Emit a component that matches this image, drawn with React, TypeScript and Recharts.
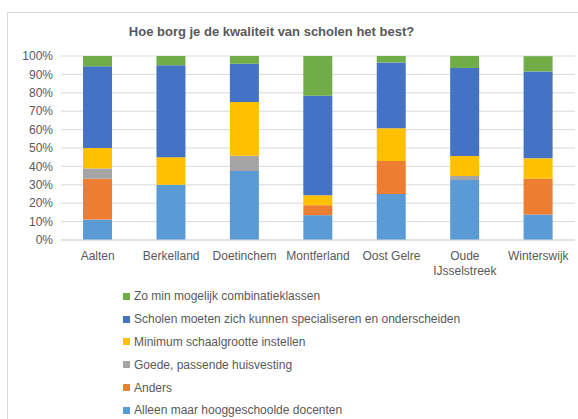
import { BarChart, Bar, XAxis, YAxis, CartesianGrid } from 'recharts';

const gemeenten = ['Aalten', 'Berkelland', 'Doetinchem', 'Montferland', 'Oost Gelre', 'Oude IJsselstreek', 'Winterswijk'];

// percentages per gemeente, bottom of stack first
const docenten = [11.1, 30, 37.5, 13.5, 25, 32.6, 13.9];
const anders = [22.2, 0, 0, 5.4, 17.9, 0, 19.4];
const huisvesting = [5.6, 0, 8.3, 0, 0, 2.2, 0];
const schaalgrootte = [11.1, 15, 29.2, 5.4, 17.9, 10.9, 11.1];
const specialiseren = [44.4, 50, 20.8, 54.1, 35.7, 47.8, 47.2];
const combinatieklassen = [5.6, 5, 4.2, 21.6, 3.6, 6.5, 8.3];

const yTicks = [0, 10, 20, 30, 40, 50, 60, 70, 80, 90, 100];

const series = [
  { key: 'docenten', name: 'Alleen maar hooggeschoolde docenten', color: '#5B9BD5', values: docenten },
  { key: 'anders', name: 'Anders', color: '#ED7D31', values: anders },
  { key: 'huisvesting', name: 'Goede, passende huisvesting', color: '#A5A5A5', values: huisvesting },
  { key: 'schaalgrootte', name: 'Minimum schaalgrootte instellen', color: '#FFC000', values: schaalgrootte },
  { key: 'specialiseren', name: 'Scholen moeten zich kunnen specialiseren en onderscheiden', color: '#4472C4', values: specialiseren },
  { key: 'combinatieklassen', name: 'Zo min mogelijk combinatieklassen', color: '#70AD47', values: combinatieklassen },
];

const data = gemeenten.map((g, i) => {
  const row: Record<string, string | number> = { name: g };
  series.forEach(s => { row[s.key] = s.values[i]; });
  return row;
});

const font = '"Liberation Sans", Arial, sans-serif';
const textColor = '#595959';

const GemeenteTick = (props: any) => {
  const { x, y, payload } = props;
  const label: string = payload.value;
  const lines = label.length > 12 ? label.split(' ') : [label];
  return (
    <text x={x} y={y} textAnchor="middle" fill={textColor} fontSize={12} fontFamily={font}>
      {lines.map((l, i) => (
        <tspan key={i} x={x} dy={i === 0 ? '0.71em' : 15}>{l}</tspan>
      ))}
    </text>
  );
};

export default function App() {
  return (
    <div style={{ position: 'absolute', left: 0, top: 0, width: 578, height: 419, overflow: 'hidden', background: '#fff', fontFamily: font }}>
      <div style={{ position: 'absolute', left: 7, top: 12, width: 600, height: 450, border: '1px solid #d9d9d9' }} />
      <div style={{ position: 'absolute', left: 0, width: 543, top: 24, textAlign: 'center', fontSize: 13, fontWeight: 'bold', color: textColor }}>
        Hoe borg je de kwaliteit van scholen het best?
      </div>
      <div style={{ position: 'absolute', left: 0, top: 0 }}>
        <BarChart width={578} height={290} data={data} margin={{ top: 56, right: 3, bottom: 10, left: 8 }} barCategoryGap="30%">
          <CartesianGrid vertical={false} stroke="#d9d9d9" />
          <XAxis dataKey="name" height={40} tick={<GemeenteTick />} tickLine={false} tickMargin={5} stroke="#d9d9d9" interval={0} />
          <YAxis width={53} domain={[0, 100]} ticks={yTicks} interval={0} allowDataOverflow tickFormatter={(v: number) => `${v}%`} axisLine={false} tickLine={false} tick={{ fill: textColor, fontSize: 12, fontFamily: font }} />
          {series.map(s => (
            <Bar key={s.key} dataKey={s.key} name={s.name} stackId="a" fill={s.color} isAnimationActive={false} />
          ))}
        </BarChart>
      </div>
      <div style={{ position: 'absolute', left: 123, top: 285 }}>
        {[...series].reverse().map(s => (
          <div key={s.key} style={{ display: 'flex', alignItems: 'center', height: 22.8, fontSize: 12, color: textColor }}>
            <span style={{ width: 7, height: 7, background: s.color, marginRight: 4, display: 'inline-block' }} />
            {s.name}
          </div>
        ))}
      </div>
    </div>
  );
}
